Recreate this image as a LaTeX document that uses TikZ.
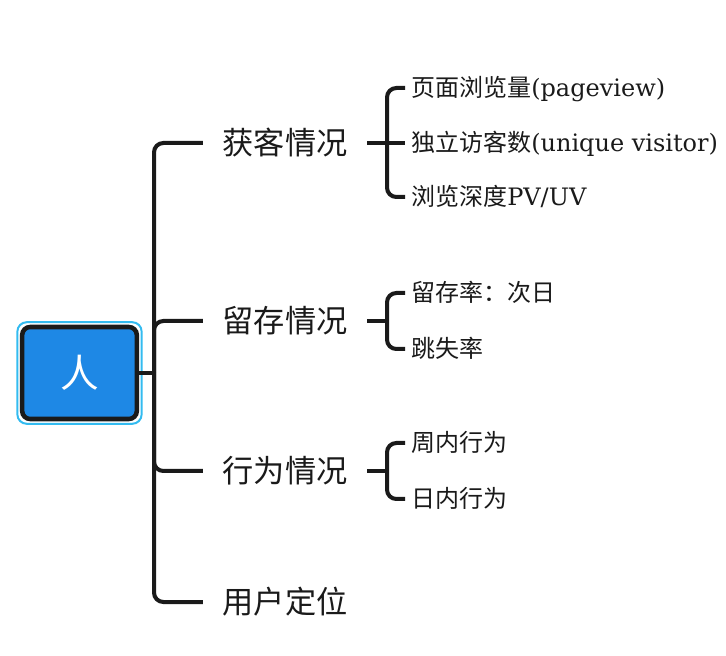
\documentclass[tikz,border=0pt]{standalone}
\usepackage{fontspec}
\setmainfont{DejaVu Serif}
\newfontfamily\cjk{Noto Sans CJK SC}
\usetikzlibrary{fit}
\definecolor{rootblue}{HTML}{1E88E5}
\definecolor{selcyan}{HTML}{33BBF0}
\definecolor{linedark}{HTML}{1A1A1A}
\begin{document}
\begin{tikzpicture}[x=0.75pt,y=-0.75pt]
\tikzset{
rootbox/.style={draw=linedark, line width=3.4pt, fill=rootblue, rounded corners=6pt, minimum width=86pt, minimum height=69pt, text=white, font=\cjk\fontsize{29}{34}\selectfont},
selframe/.style={draw=selcyan, line width=1.5pt, rounded corners=7pt, inner sep=1.9pt},
topic/.style={inner xsep=14.6pt, inner ysep=0pt, text height=18.7pt, text depth=1.2pt, font=\cjk\fontsize{23.4}{28}\selectfont, text=linedark},
leaf/.style={anchor=west, inner xsep=4.5pt, inner ysep=0pt, text height=14.4pt, text depth=0.9pt, font=\fontsize{18}{22}\selectfont, text=linedark},
link/.style={draw=linedark, line width=3pt, rounded corners=7pt}
}
\useasboundingbox (0,0) rectangle (726,656);
\node[rootbox] (root) at (79.5,373) {人};
\node[selframe, fit=(root)] (rootsel) {};
\coordinate (hub) at (154,373);
\node[topic] (b1) at (285,143) {获客情况};
\node[topic] (b2) at (285,321) {留存情况};
\node[topic] (b3) at (285,471) {行为情况};
\node[topic] (b4) at (285,602) {用户定位};
\draw[link] (root.east) -- (hub);
\draw[link] (b1.west) -| (hub) |- (b4.west);
\draw[link] (hub) |- (b2.west);
\draw[link] (hub) |- (b3.west);
\coordinate (h1) at (387,143);
\node[leaf] (l11) at (405,88) {{\cjk 页面浏览量}(pageview)};
\node[leaf] (l12) at (405,143) {{\cjk 独立访客数}(unique visitor)};
\node[leaf] (l13) at (405,197) {{\cjk 浏览深度}PV/UV};
\draw[link] (b1.east) -- (h1);
\draw[link] (l11.west) -| (h1) |- (l13.west);
\draw[link] (h1) -- (l12.west);
\coordinate (h2) at (387,321);
\node[leaf] (l21) at (405,293) {\cjk 留存率：次日};
\node[leaf] (l22) at (405,349) {\cjk 跳失率};
\draw[link] (b2.east) -- (h2);
\draw[link] (l21.west) -| (h2) |- (l22.west);
\coordinate (h3) at (387,471);
\node[leaf] (l31) at (405,443) {\cjk 周内行为};
\node[leaf] (l32) at (405,499) {\cjk 日内行为};
\draw[link] (b3.east) -- (h3);
\draw[link] (l31.west) -| (h3) |- (l32.west);
\end{tikzpicture}
\end{document}
